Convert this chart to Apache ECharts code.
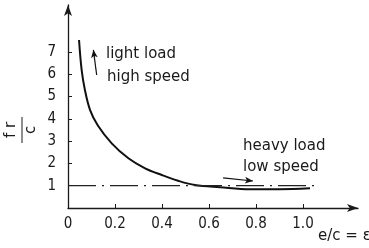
<!DOCTYPE html>
<html>
<head>
<meta charset="utf-8">
<script src="https://cdn.jsdelivr.net/npm/echarts@6/dist/echarts.min.js"></script>
<style>html,body{margin:0;padding:0;background:#fff}#c{width:369px;height:248px}</style>
</head>
<body>
<div id="c"></div>
<script>
// Data
var curveX = [0.047, 0.058, 0.072, 0.094, 0.127, 0.186, 0.257, 0.328, 0.399, 0.469, 0.540, 0.647, 0.774, 0.900, 1.030];
var curveY = [7.53, 6.19, 5.29, 4.39, 3.70, 2.90, 2.23, 1.78, 1.48, 1.22, 1.03, 0.93, 0.84, 0.84, 0.88];
var refLineX = [0, 1.07];
var refLineY = [1, 1];
var xTickValues = [0, 0.2, 0.4, 0.6, 0.8, 1.0];
var yTickValues = [1, 2, 3, 4, 5, 6, 7];
var lightArrow = [[0.122, 5.96], [0.108, 7.09]];
var heavyArrow = [[0.66, 1.35], [0.787, 1.21]];

var FONT = '"DejaVu Sans Condensed","DejaVu Sans",sans-serif';
var INK = '#1a1a1a';

var chart = echarts.init(document.getElementById('c'), null, {renderer: 'canvas'});
chart.setOption({
  animation: false,
  backgroundColor: '#fff',
  grid: {left: 68, right: 11, top: 5, bottom: 40, containLabel: false},
  xAxis: {
    type: 'value', min: 0, max: 1.234,
    splitLine: {show: false},
    axisLine: {lineStyle: {color: INK, width: 1.3}, symbol: ['none', 'arrow'], symbolSize: [6, 11]},
    axisTick: {show: true, inside: true, length: 4, lineStyle: {color: INK}, customValues: xTickValues.slice(1)},
    axisLabel: {
      customValues: xTickValues, margin: 9, color: INK, fontFamily: FONT, fontSize: 15,
      formatter: function (v) { return v === 0 ? '0' : v.toFixed(1); }
    }
  },
  yAxis: {
    type: 'value', min: 0, max: 9.1,
    splitLine: {show: false},
    axisLine: {lineStyle: {color: INK, width: 1.3}, symbol: ['none', 'arrow'], symbolSize: [6, 11]},
    axisTick: {show: true, inside: true, length: 4, lineStyle: {color: INK}, customValues: yTickValues},
    axisLabel: {customValues: yTickValues, margin: 12, color: INK, fontFamily: FONT, fontSize: 15}
  },
  series: [
    {
      type: 'line', smooth: 0.35, showSymbol: false, symbol: 'none',
      data: curveX.map(function (x, i) { return [x, curveY[i]]; }),
      lineStyle: {color: '#111', width: 2},
      markLine: {
        silent: true, symbol: ['none', 'arrow'], symbolSize: [5, 8],
        label: {show: false},
        lineStyle: {color: '#111', width: 1.2, type: 'solid'},
        data: [
          [{coord: lightArrow[0]}, {coord: lightArrow[1]}],
          [{coord: heavyArrow[0]}, {coord: heavyArrow[1]}]
        ]
      }
    },
    {
      type: 'line', showSymbol: false, symbol: 'none',
      data: refLineX.map(function (x, i) { return [x, refLineY[i]]; }),
      lineStyle: {color: '#222', width: 1.2, type: [28, 6, 2, 6]}
    }
  ],
  graphic: [
    {type: 'text', left: 106, top: 47, style: {text: 'light load', font: '15px "DejaVu Sans"', fill: INK}},
    {type: 'text', left: 107, top: 70, style: {text: 'high speed', font: '15px "DejaVu Sans"', fill: INK}},
    {type: 'text', left: 243, top: 139, style: {text: 'heavy load', font: '15px "DejaVu Sans"', fill: INK}},
    {type: 'text', left: 243, top: 160, style: {text: 'low speed', font: '15px "DejaVu Sans"', fill: INK}},
    {type: 'text', left: 318, top: 229, style: {text: 'e/c = ε', font: '15px "DejaVu Sans"', fill: INK}},
    {type: 'text', x: 11, y: 130, rotation: Math.PI / 2, style: {text: 'f r', font: '15px "DejaVu Sans"', fill: INK, align: 'center', verticalAlign: 'middle'}},
    {type: 'line', shape: {x1: 22, y1: 117, x2: 22, y2: 143}, style: {stroke: '#444', lineWidth: 1.2}},
    {type: 'text', x: 31, y: 130, rotation: Math.PI / 2, style: {text: 'c', font: '15px "DejaVu Sans"', fill: INK, align: 'center', verticalAlign: 'middle'}}
  ]
});
</script>
</body>
</html>
